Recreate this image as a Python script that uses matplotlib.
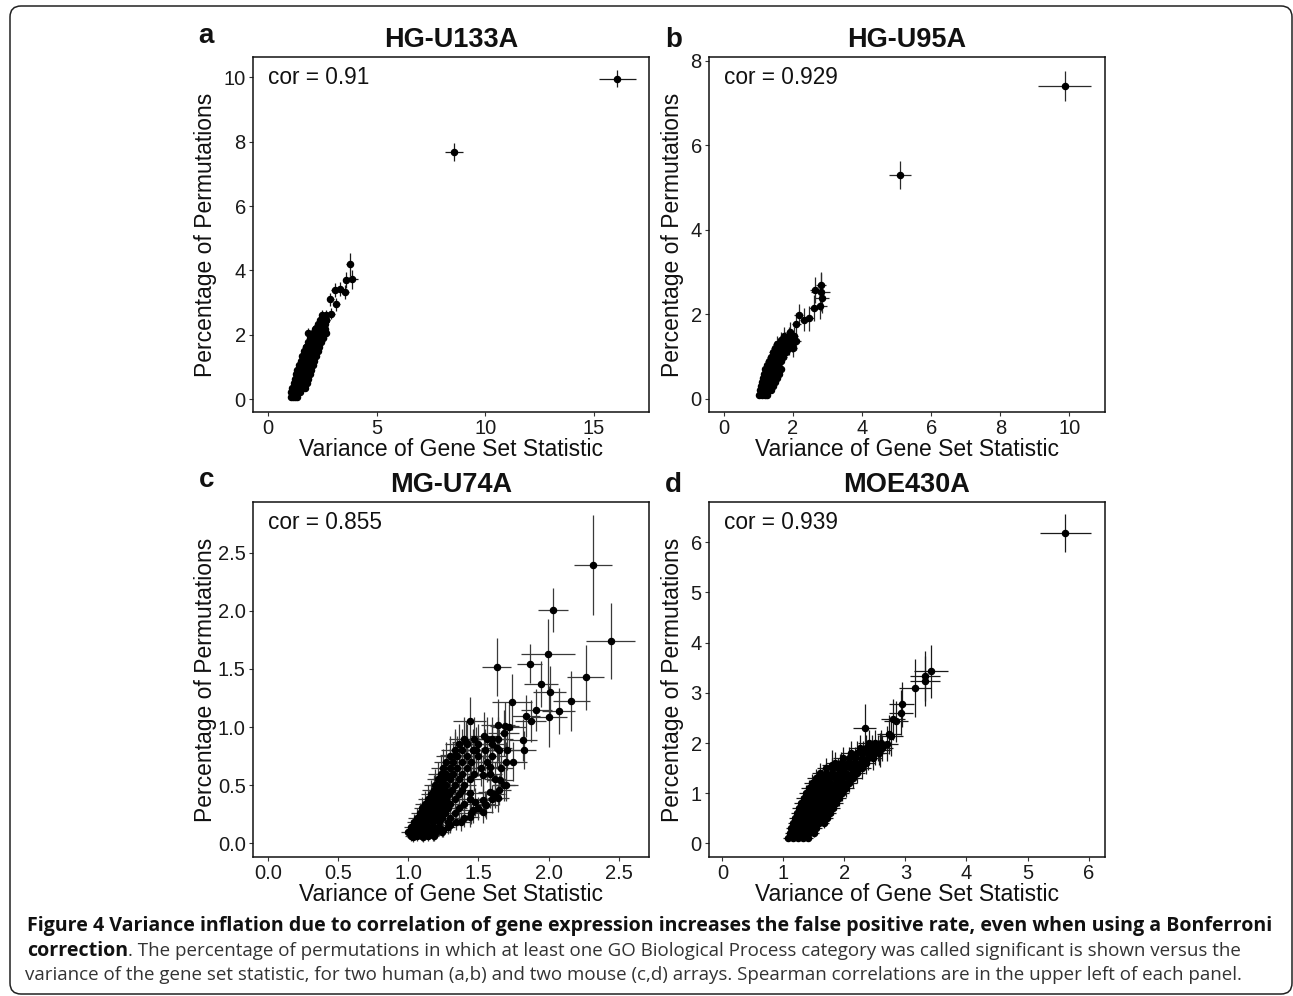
import matplotlib
matplotlib.use("Agg")
import matplotlib.pyplot as plt
from matplotlib.patches import FancyBboxPatch
from matplotlib.transforms import IdentityTransform

# ---------------- data ----------------
# Dense part of each cloud is given row by row: one y value per row,
# the x positions of the points on that row, and the row's error sizes.

# Panel a: HG-U133A
A_band_y = [0.08, 0.22, 0.36, 0.50, 0.64, 0.78, 0.92, 1.06, 1.20, 1.34,
            1.48, 1.62, 1.76, 1.90, 2.04, 2.18, 2.32, 2.46, 2.60]
A_band_x = [[1.05, 1.15, 1.25, 1.35],
            [1.08, 1.20, 1.32, 1.45],
            [1.12, 1.26, 1.40, 1.55, 1.68],
            [1.18, 1.32, 1.47, 1.62, 1.78],
            [1.22, 1.37, 1.52, 1.68, 1.85],
            [1.28, 1.43, 1.58, 1.74, 1.92],
            [1.35, 1.50, 1.65, 1.81, 1.98],
            [1.42, 1.57, 1.72, 1.88, 2.05],
            [1.50, 1.65, 1.80, 1.95, 2.12],
            [1.57, 1.72, 1.88, 2.03, 2.20],
            [1.65, 1.80, 1.96, 2.12, 2.28],
            [1.75, 1.90, 2.05, 2.20, 2.35],
            [1.85, 2.00, 2.15, 2.30, 2.45],
            [1.95, 2.10, 2.25, 2.40, 2.55],
            [2.08, 2.22, 2.38, 2.55, 2.66],
            [2.18, 2.33, 2.48, 2.62],
            [2.30, 2.45, 2.60],
            [2.40, 2.55, 2.68],
            [2.50, 2.65]]
A_band_xerr = [0.07, 0.08, 0.08, 0.09, 0.09, 0.10, 0.10, 0.11, 0.11, 0.12,
               0.12, 0.12, 0.13, 0.13, 0.13, 0.14, 0.14, 0.14, 0.15]
A_band_yerr = [0.05, 0.06, 0.07, 0.08, 0.09, 0.10, 0.10, 0.11, 0.12, 0.12,
               0.13, 0.14, 0.14, 0.15, 0.16, 0.16, 0.17, 0.18, 0.18]
A_out_x = [1.84, 2.23, 1.73, 2.53, 2.69, 2.87, 2.92, 3.07, 3.15, 3.30,
           3.53, 3.61, 3.76, 3.88, 8.57, 16.08]
A_out_y = [2.07, 2.20, 1.63, 2.04, 2.46, 3.10, 2.66, 3.39, 2.95, 3.41,
           3.34, 3.70, 4.19, 3.72, 7.68, 9.96]
A_out_xerr = [0.12, 0.14, 0.12, 0.14, 0.15, 0.15, 0.15, 0.16, 0.16, 0.17,
              0.18, 0.18, 0.15, 0.27, 0.42, 0.83]
A_out_yerr = [0.15, 0.16, 0.14, 0.15, 0.17, 0.20, 0.18, 0.22, 0.20, 0.22,
              0.22, 0.24, 0.35, 0.30, 0.27, 0.26]

# Panel b: HG-U95A
B_band_y = [0.10, 0.20, 0.30, 0.40, 0.50, 0.60, 0.70, 0.80, 0.90, 1.00,
            1.10, 1.20, 1.30, 1.40, 1.50]
B_band_x = [[1.02, 1.10, 1.18, 1.26],
            [1.05, 1.13, 1.21, 1.29, 1.37],
            [1.08, 1.16, 1.24, 1.32, 1.42],
            [1.10, 1.19, 1.28, 1.37, 1.48],
            [1.13, 1.22, 1.32, 1.42, 1.54],
            [1.16, 1.26, 1.36, 1.47, 1.60],
            [1.20, 1.30, 1.41, 1.52, 1.65],
            [1.25, 1.35, 1.46, 1.58],
            [1.30, 1.40, 1.52, 1.64],
            [1.36, 1.46, 1.58, 1.72],
            [1.42, 1.52, 1.65, 1.80],
            [1.48, 1.60, 1.72, 1.88],
            [1.55, 1.68, 1.82, 1.98],
            [1.65, 1.78, 1.92],
            [1.75, 1.88, 2.02]]
B_band_xerr = [0.06, 0.06, 0.07, 0.07, 0.08, 0.08, 0.09, 0.09, 0.10, 0.10,
               0.11, 0.11, 0.12, 0.12, 0.13]
B_band_yerr = [0.06, 0.07, 0.08, 0.09, 0.10, 0.11, 0.12, 0.13, 0.14, 0.15,
               0.16, 0.17, 0.18, 0.19, 0.20]
B_out_x = [2.10, 2.01, 1.91, 2.10, 2.17, 2.33, 2.47, 2.62, 2.65, 2.80,
           2.83, 2.78, 2.82, 5.11, 9.86]
B_out_y = [1.36, 1.20, 1.59, 1.78, 1.99, 1.87, 1.91, 2.15, 2.58, 2.54,
           2.38, 2.20, 2.70, 5.29, 7.41]
B_out_xerr = [0.12, 0.11, 0.12, 0.13, 0.13, 0.14, 0.15, 0.15, 0.16, 0.28,
              0.22, 0.20, 0.15, 0.32, 0.76]
B_out_yerr = [0.20, 0.20, 0.22, 0.25, 0.25, 0.27, 0.30, 0.30, 0.30, 0.45,
              0.35, 0.30, 0.30, 0.33, 0.35]

# Panel c: MG-U74A
C_band_y = [0.06, 0.10, 0.14, 0.18, 0.22, 0.26, 0.30, 0.34, 0.38, 0.42,
            0.46, 0.50, 0.55, 0.60, 0.65, 0.70, 0.75, 0.80, 0.85, 0.90]
C_band_x = [[1.02, 1.06, 1.10, 1.14, 1.18],
            [1.00, 1.04, 1.08, 1.12, 1.16, 1.20, 1.24],
            [1.02, 1.06, 1.10, 1.14, 1.18, 1.22, 1.28],
            [1.04, 1.08, 1.12, 1.17, 1.22, 1.28, 1.34],
            [1.06, 1.10, 1.14, 1.19, 1.24, 1.30, 1.40],
            [1.08, 1.12, 1.16, 1.21, 1.26, 1.33, 1.45],
            [1.10, 1.14, 1.18, 1.23, 1.28, 1.36, 1.50],
            [1.12, 1.16, 1.20, 1.25, 1.30, 1.40, 1.55],
            [1.14, 1.18, 1.22, 1.27, 1.33, 1.44, 1.60],
            [1.16, 1.20, 1.24, 1.29, 1.36, 1.62],
            [1.18, 1.22, 1.26, 1.31, 1.38, 1.65],
            [1.19, 1.23, 1.27, 1.33, 1.40, 1.68],
            [1.21, 1.25, 1.30, 1.36, 1.44, 1.62],
            [1.23, 1.27, 1.32, 1.38, 1.47, 1.58],
            [1.25, 1.30, 1.35, 1.42, 1.52, 1.66],
            [1.27, 1.32, 1.38, 1.45, 1.56, 1.70],
            [1.30, 1.35, 1.42, 1.50, 1.60],
            [1.33, 1.38, 1.46, 1.55, 1.65],
            [1.36, 1.42, 1.50, 1.60],
            [1.40, 1.47, 1.56, 1.64]]
C_band_xerr = [0.04, 0.05, 0.05, 0.05, 0.06, 0.06, 0.06, 0.07, 0.07, 0.07,
               0.08, 0.08, 0.08, 0.09, 0.09, 0.09, 0.10, 0.10, 0.10, 0.11]
C_band_yerr = [0.04, 0.05, 0.06, 0.07, 0.08, 0.09, 0.10, 0.11, 0.12, 0.12,
               0.13, 0.14, 0.15, 0.15, 0.16, 0.17, 0.17, 0.18, 0.18, 0.19]
C_out_x = [2.316, 2.031, 2.442, 1.629, 1.865, 1.995, 2.264, 1.948, 2.007, 2.162,
           2.071, 1.912, 2.002, 1.841, 1.872, 1.739, 1.817, 1.824, 1.746, 1.694,
           1.437, 1.537, 1.639, 1.686, 1.409, 1.335, 1.485, 1.532, 1.580, 1.639,
           1.556, 1.473, 1.532, 1.437, 1.378, 1.295, 1.247, 1.176, 1.105, 1.033,
           1.630, 1.701, 1.582, 1.654, 1.440, 1.463, 1.535, 1.720, 1.680, 1.600]
C_out_y = [2.394, 2.007, 1.740, 1.517, 1.545, 1.631, 1.428, 1.368, 1.304, 1.224,
           1.138, 1.144, 1.089, 1.095, 1.049, 1.213, 0.889, 0.803, 0.702, 0.502,
           1.055, 0.926, 1.018, 1.012, 0.869, 0.760, 0.803, 0.588, 0.444, 0.387,
           0.330, 0.358, 0.272, 0.229, 0.186, 0.158, 0.115, 0.072, 0.057, 0.057,
           0.817, 0.802, 0.659, 0.544, 0.430, 0.286, 0.372, 1.000, 0.950, 0.900]
C_out_xerr = [0.136, 0.105, 0.176, 0.100, 0.090, 0.190, 0.130, 0.120, 0.120, 0.130,
              0.120, 0.110, 0.130, 0.100, 0.110, 0.140, 0.100, 0.090, 0.100, 0.090,
              0.120, 0.100, 0.120, 0.100, 0.100, 0.110, 0.120, 0.100, 0.080, 0.080,
              0.080, 0.080, 0.070, 0.070, 0.070, 0.060, 0.060, 0.050, 0.050, 0.040,
              0.110, 0.100, 0.100, 0.090, 0.090, 0.080, 0.080, 0.120, 0.110, 0.110]
C_out_yerr = [0.430, 0.190, 0.330, 0.250, 0.170, 0.300, 0.280, 0.200, 0.220, 0.260,
              0.200, 0.180, 0.260, 0.180, 0.180, 0.240, 0.180, 0.160, 0.170, 0.140,
              0.200, 0.200, 0.220, 0.200, 0.180, 0.200, 0.200, 0.170, 0.140, 0.120,
              0.120, 0.120, 0.100, 0.090, 0.080, 0.070, 0.060, 0.050, 0.050, 0.050,
              0.180, 0.170, 0.170, 0.150, 0.140, 0.110, 0.130, 0.200, 0.200, 0.190]

# Panel d: MOE430A
D_band_y = [0.10, 0.20, 0.30, 0.40, 0.50, 0.60, 0.70, 0.80, 0.90, 1.00,
            1.10, 1.20, 1.30, 1.40, 1.50, 1.60, 1.70, 1.80, 1.90, 2.00]
D_band_x = [[1.08, 1.16, 1.24, 1.32, 1.40],
            [1.10, 1.18, 1.26, 1.34, 1.42, 1.50],
            [1.13, 1.21, 1.29, 1.37, 1.45, 1.54],
            [1.16, 1.24, 1.32, 1.40, 1.49, 1.58, 1.66],
            [1.19, 1.27, 1.35, 1.44, 1.53, 1.62, 1.71],
            [1.22, 1.30, 1.39, 1.48, 1.57, 1.66, 1.76],
            [1.25, 1.34, 1.43, 1.52, 1.61, 1.71, 1.81],
            [1.29, 1.38, 1.47, 1.56, 1.66, 1.76, 1.86],
            [1.33, 1.42, 1.51, 1.61, 1.71, 1.81, 1.91],
            [1.37, 1.46, 1.56, 1.66, 1.76, 1.86, 1.96],
            [1.42, 1.51, 1.61, 1.71, 1.81, 1.92, 2.02],
            [1.47, 1.57, 1.67, 1.77, 1.87, 1.98, 2.08],
            [1.53, 1.63, 1.73, 1.84, 1.94, 2.05, 2.14],
            [1.60, 1.70, 1.80, 1.91, 2.01, 2.12, 2.20],
            [1.70, 1.80, 1.90, 2.00, 2.10, 2.20, 2.28],
            [1.85, 1.95, 2.05, 2.15, 2.25, 2.35],
            [1.98, 2.08, 2.18, 2.28, 2.38, 2.46],
            [2.10, 2.20, 2.30, 2.40, 2.50, 2.56],
            [2.25, 2.35, 2.45, 2.55, 2.62],
            [2.40, 2.50, 2.60]]
D_band_xerr = [0.08, 0.08, 0.09, 0.09, 0.10, 0.10, 0.11, 0.11, 0.12, 0.12,
               0.13, 0.13, 0.14, 0.14, 0.15, 0.15, 0.16, 0.16, 0.17, 0.17]
D_band_yerr = [0.06, 0.08, 0.09, 0.10, 0.11, 0.12, 0.13, 0.14, 0.15, 0.16,
               0.17, 0.18, 0.19, 0.20, 0.21, 0.22, 0.23, 0.24, 0.25, 0.26]
D_out_x = [1.79, 1.925, 2.007, 2.335, 2.58, 2.69, 2.73, 2.76, 2.80, 2.84,
           2.926, 2.937, 3.156, 3.32, 3.32, 3.413, 5.617]
D_out_y = [1.56, 1.49, 1.40, 2.29, 1.86, 1.99, 2.17, 2.13, 2.47, 2.43,
           2.60, 2.77, 3.09, 3.24, 3.34, 3.43, 6.18]
D_out_xerr = [0.15, 0.16, 0.16, 0.19, 0.18, 0.18, 0.20, 0.20, 0.20, 0.20,
              0.20, 0.20, 0.27, 0.25, 0.25, 0.28, 0.42]
D_out_yerr = [0.30, 0.30, 0.30, 0.49, 0.33, 0.35, 0.38, 0.38, 0.40, 0.40,
              0.45, 0.45, 0.58, 0.50, 0.50, 0.53, 0.38]

panel_letters = ["a", "b", "c", "d"]
panel_titles = ["HG-U133A", "HG-U95A", "MG-U74A", "MOE430A"]
panel_cors = ["cor = 0.91", "cor = 0.929", "cor = 0.855", "cor = 0.939"]
x_ticks = [[0, 5, 10, 15], [0, 2, 4, 6, 8, 10],
           [0.0, 0.5, 1.0, 1.5, 2.0, 2.5], [0, 1, 2, 3, 4, 5, 6]]
y_ticks = [[0, 2, 4, 6, 8, 10], [0, 2, 4, 6, 8],
           [0.0, 0.5, 1.0, 1.5, 2.0, 2.5], [0, 1, 2, 3, 4, 5, 6]]
x_tick_labels = [["0", "5", "10", "15"], ["0", "2", "4", "6", "8", "10"],
                 ["0.0", "0.5", "1.0", "1.5", "2.0", "2.5"],
                 ["0", "1", "2", "3", "4", "5", "6"]]
y_tick_labels = [["0", "2", "4", "6", "8", "10"], ["0", "2", "4", "6", "8"],
                 ["0.0", "0.5", "1.0", "1.5", "2.0", "2.5"],
                 ["0", "1", "2", "3", "4", "5", "6"]]
x_label = "Variance of Gene Set Statistic"
y_label = "Percentage of Permutations"

caption_line1 = ("Figure 4 Variance inflation due to correlation of gene expression "
                 "increases the false positive rate, even when using a Bonferroni")
caption_line2_bold = "correction"
caption_line2_rest = (". The percentage of permutations in which at least one GO Biological "
                      "Process category was called significant is shown versus the")
caption_line3 = ("variance of the gene set statistic, for two human (a,b) and two mouse "
                 "(c,d) arrays. Spearman correlations are in the upper left of each panel.")


def expand_rows(row_y, row_x, row_xerr, row_yerr):
    xs, ys, xes, yes = [], [], [], []
    for yv, xrow, xe, ye in zip(row_y, row_x, row_xerr, row_yerr):
        for xv in xrow:
            xs.append(xv)
            ys.append(yv)
            xes.append(xe)
            yes.append(ye)
    return xs, ys, xes, yes


bands = [expand_rows(A_band_y, A_band_x, A_band_xerr, A_band_yerr),
         expand_rows(B_band_y, B_band_x, B_band_xerr, B_band_yerr),
         expand_rows(C_band_y, C_band_x, C_band_xerr, C_band_yerr),
         expand_rows(D_band_y, D_band_x, D_band_xerr, D_band_yerr)]
outs = [(A_out_x, A_out_y, A_out_xerr, A_out_yerr),
        (B_out_x, B_out_y, B_out_xerr, B_out_yerr),
        (C_out_x, C_out_y, C_out_xerr, C_out_yerr),
        (D_out_x, D_out_y, D_out_xerr, D_out_yerr)]

# ---------------- layout ----------------
W, H = 1293, 996
fig = plt.figure(figsize=(W / 100, H / 100), dpi=100)
fig.patch.set_facecolor("white")

PLOT_FONT = "Liberation Sans"


def ax_rect(l, t, r, b):
    return [l / W, 1 - b / H, (r - l) / W, (b - t) / H]


rects = [ax_rect(253, 57, 649, 412), ax_rect(709, 57, 1105, 412),
         ax_rect(253, 502, 649, 857), ax_rect(709, 502, 1105, 857)]
xlims = [(-0.69, 17.53), (-0.43, 11.03), (-0.107, 2.716), (-0.22, 6.27)]
ylims = [(-0.40, 10.63), (-0.31, 8.09), (-0.118, 2.935), (-0.27, 6.80)]
letter_pos = [(198, 43), (665, 47), (199, 487), (665, 492)]
ylabel_x = [-0.092, -0.062, -0.092, -0.062]
err_colors = ["#1a1a1a", "#2a2a2a", "#3a3a3a", "#1a1a1a"]

for i in range(4):
    ax = fig.add_axes(rects[i])
    for (x, y, xe, ye) in (bands[i], outs[i]):
        ax.errorbar(x, y, xerr=xe, yerr=ye, fmt="o", ms=4.4, color="black",
                    mec="black", mfc="black", ecolor=err_colors[i],
                    elinewidth=0.9, capsize=0, zorder=3)
    ax.set_xlim(*xlims[i])
    ax.set_ylim(*ylims[i])
    ax.set_xticks(x_ticks[i])
    ax.set_xticklabels(x_tick_labels[i], fontfamily=PLOT_FONT, fontsize=14.5)
    ax.set_yticks(y_ticks[i])
    ax.set_yticklabels(y_tick_labels[i], fontfamily=PLOT_FONT, fontsize=14.5)
    ax.tick_params(direction="out", length=3.2, width=0.8, color="#333333",
                   labelcolor="#1a1a1a", pad=2)
    for sp in ax.spines.values():
        sp.set_linewidth(1.1)
        sp.set_color("#111111")
    ax.set_xlabel(x_label, fontfamily=PLOT_FONT, fontsize=16.5, labelpad=0,
                  color="#111111")
    ax.set_ylabel(y_label, fontfamily=PLOT_FONT, fontsize=16.5,
                  color="#111111")
    ax.yaxis.set_label_coords(ylabel_x[i], 0.5)
    ax.set_title(panel_titles[i], fontfamily=PLOT_FONT, fontsize=19.5,
                 fontweight="bold", pad=7, color="#111111")
    ax.text(0.038, 0.925, panel_cors[i], transform=ax.transAxes,
            fontfamily=PLOT_FONT, fontsize=16.3, va="baseline", ha="left",
            color="#111111")
    lx, ly = letter_pos[i]
    fig.text(lx / W, 1 - ly / H, panel_letters[i], fontfamily=PLOT_FONT,
             fontsize=20, fontweight="bold", va="baseline", ha="left",
             color="#111111")

# ---------------- caption ----------------
CAP_FONT = ["Open Sans", "DejaVu Sans"]
renderer = fig.canvas.get_renderer()


def tw(s, fs, weight):
    t = fig.text(0, 0, s, fontfamily=CAP_FONT, fontsize=fs, fontweight=weight)
    w = t.get_window_extent(renderer).width
    t.remove()
    return w


base_fs = 13.5
w3 = tw(caption_line3, base_fs, "normal")
cap_fs = base_fs * (1241 - 25) / w3
w1 = tw(caption_line1, base_fs, "bold")
bold_fs = base_fs * (1277 - 27) / w1

# line 1 (bold, spans full width)
fig.text(27 / W, 1 - 931 / H, caption_line1, fontfamily=CAP_FONT,
         fontsize=bold_fs, fontweight="bold", va="baseline", ha="left",
         color="#111111")

# line 2
wb = tw(caption_line2_bold, bold_fs, "bold")
fig.text(27 / W, 1 - 955.5 / H, caption_line2_bold, fontfamily=CAP_FONT,
         fontsize=bold_fs, fontweight="bold", va="baseline", ha="left",
         color="#111111")
fig.text((27 + wb) / W, 1 - 955.5 / H, caption_line2_rest, fontfamily=CAP_FONT,
         fontsize=cap_fs, fontweight="normal", va="baseline", ha="left",
         color="#333333")

# line 3
fig.text(25 / W, 1 - 980 / H, caption_line3, fontfamily=CAP_FONT,
         fontsize=cap_fs, fontweight="normal", va="baseline", ha="left",
         color="#333333")

# ---------------- frame ----------------
frame = FancyBboxPatch((10, H - 994), 1292 - 10, 994 - 6,
                       boxstyle="round,pad=0,rounding_size=11",
                       transform=IdentityTransform(), fill=False,
                       edgecolor="#222222", linewidth=1.1)
fig.patches.append(frame)

fig.savefig("out.png", dpi=100)
